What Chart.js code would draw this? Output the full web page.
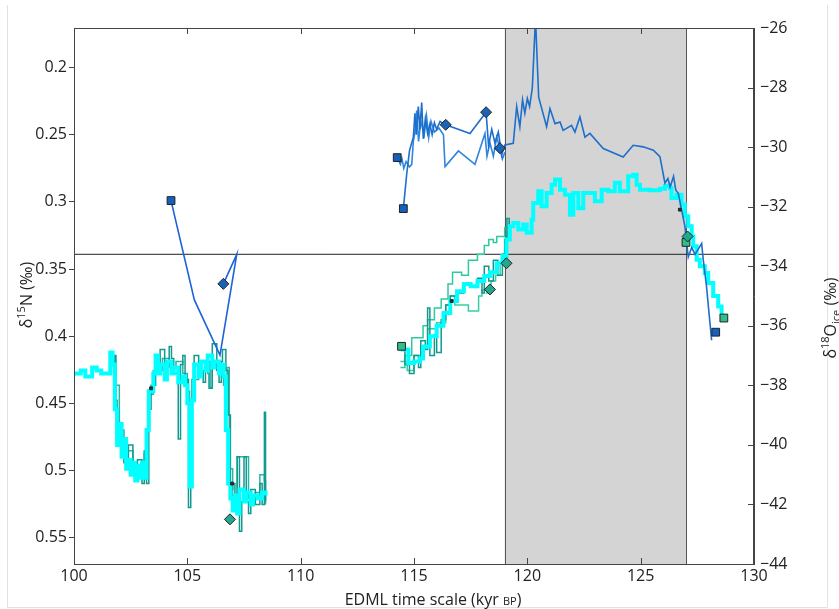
<!DOCTYPE html>
<html>
<head>
<meta charset="utf-8">
<script src="https://cdn.jsdelivr.net/npm/chart.js@4.4.1/dist/chart.umd.min.js"></script>
<style>
  html, body { margin: 0; padding: 0; background: #fff; }
  canvas { display: block; }
</style>
</head>
<body>
<canvas id="chart" width="839" height="609"></canvas>
<script>
// axis ticks
const ageTicks = [100, 105, 110, 115, 120, 125, 130];
const d15nTicks = [0.2, 0.25, 0.3, 0.35, 0.4, 0.45, 0.5, 0.55];
const d18oTicks = [-26, -28, -30, -32, -34, -36, -38, -40, -42, -44];

// shaded interval (kyr) and horizontal reference level (d15N)
const bandStart = 119.0;
const bandEnd = 127.0;
const refLevel = 0.339;

// d18O ice, thick cyan stairs
const cyanAge = [100.0, 100.3, 100.5, 100.8, 101.0, 101.2, 101.5, 101.6, 101.7, 101.8, 101.9, 102.0, 102.1, 102.2, 102.3, 102.4, 102.5, 102.6, 102.7, 102.8, 102.9, 103.0, 103.1, 103.2, 103.3, 103.5, 103.6, 103.7, 103.8, 104.0, 104.1, 104.3, 104.4, 104.6, 104.8, 104.9, 105.0, 105.1, 105.2, 105.3, 105.5, 105.6, 105.8, 105.9, 106.1, 106.2, 106.4, 106.5, 106.6, 106.7, 106.8, 106.9, 107.0, 107.1, 107.2, 107.3, 107.5, 107.6, 107.8, 107.9, 108.1, 108.3, 108.45,
  111,
  114.4, 114.5, 114.75, 115.0, 115.25, 115.4, 115.7, 116.0, 116.3, 116.6, 116.9, 117.2, 117.5, 117.8, 118.1, 118.35, 118.65, 118.9, 119.08, 119.23, 119.38, 119.6, 119.82, 119.97, 120.19, 120.26, 120.48, 120.63, 120.85, 121.07, 121.22, 121.44, 121.66, 121.88, 122.03, 122.25, 122.47, 122.76, 122.98, 123.28, 123.57, 123.86, 124.08, 124.45, 124.67, 124.82, 124.97, 125.41, 125.85, 126.07, 126.29, 126.36, 126.58, 126.8, 126.95, 127.1, 127.25, 127.32, 127.47, 127.61, 127.83, 127.98, 128.2, 128.42, 128.57];
const cyanD18O = [-37.6, -37.5, -37.7, -37.4, -37.5, -37.6, -37.6, -36.9, -37.3, -38.8, -40.0, -39.3, -40.4, -39.8, -40.8, -40.5, -41.0, -40.6, -41.2, -40.7, -41.1, -40.6, -41.1, -39.5, -38.2, -37.6, -37.0, -37.6, -37.3, -37.8, -37.2, -37.6, -37.4, -37.9, -37.7, -38.0, -38.6, -41.4, -38.5, -37.3, -37.7, -37.2, -37.5, -37.0, -37.4, -37.2, -37.6, -37.3, -37.7, -39.5, -41.3, -41.8, -42.2, -41.7, -42.3, -41.5, -41.9, -41.6, -42.0, -41.7, -41.8, -41.6, -41.7,
  null,
  -36.63, -36.8, -37.25, -37.2, -37.1, -36.7, -36.35, -36.0, -35.57, -35.17, -34.84, -34.6, -34.67, -34.5, -34.33, -34.2, -33.9, -33.66, -33.1, -32.66, -32.55, -32.77, -32.6, -32.88, -32.44, -31.88, -31.48, -31.99, -31.54, -31.26, -31.09, -31.43, -31.6, -32.27, -31.54, -32.05, -31.54, -31.54, -31.82, -31.43, -31.48, -31.2, -31.48, -30.98, -30.93, -31.26, -31.43, -31.45, -31.4, -31.31, -31.37, -31.71, -31.6, -31.93, -32.32, -32.66, -33.0, -33.33, -33.78, -34.0, -34.23, -34.56, -35.0, -35.35, -35.62];

// d18O, dark teal stairs
const tealAge = [101.6, 101.75, 101.8, 101.85, 101.9, 102.1, 102.2, 102.4, 102.6, 102.8, 103.0, 103.1, 103.2, 103.3, 103.4, 103.6, 103.8, 104.0, 104.2, 104.3, 104.4, 104.6, 104.7, 104.8, 104.9, 105.05, 105.15, 105.3, 105.5, 105.7, 105.8, 106.0, 106.1, 106.3, 106.4, 106.5, 106.55, 106.7, 106.8, 106.9, 107.0, 107.1, 107.2, 107.3, 107.4, 107.5, 107.6, 107.7, 107.8, 108.0, 108.2, 108.3, 108.4, 108.45,
  111,
  114.4, 114.6, 114.8, 115.0, 115.2, 115.3, 115.5, 115.6, 115.7, 115.9, 116.0, 116.2, 116.4, 116.6, 116.9, 117.2, 117.5, 117.8, 118.0, 118.1, 118.3, 118.5, 118.7, 118.9, 119.0, 119.1, 119.2];
const tealD18O = [-37.0, -37.6, -37.0, -38.5, -39.9, -39.5, -40.6, -40.0, -41.0, -40.5, -41.3, -40.2, -41.3, -38.8, -38.0, -37.4, -36.8, -37.3, -36.7, -37.1, -37.6, -39.8, -37.3, -37.0, -37.8, -42.1, -38.5, -37.0, -37.5, -37.9, -37.2, -38.1, -36.6, -37.5, -37.9, -37.2, -36.8, -37.5, -39.0, -41.5, -41.3, -42.0, -40.4, -42.9, -41.9, -40.4, -41.9, -42.3, -41.5, -42.0, -41.3, -42.0, -38.9, -41.9,
  null,
  -36.7, -37.3, -37.6, -37.0, -37.4, -36.5, -36.8, -35.4, -37.0, -36.3, -36.9, -35.8, -35.3, -35.0, -34.9, -34.6, -34.7, -34.4, -34.9, -34.0, -34.5, -33.8, -34.3, -33.6, -33.1, -32.4, -33.0];

// d18O, light teal stairs
const tealLightAge = [101.6, 101.8, 102.0, 102.3, 102.6, 102.9, 103.1, 103.25, 103.5, 103.9, 104.2, 104.5, 104.8, 105.0, 105.1, 105.2, 105.5, 105.9, 105.95, 106.1, 106.45, 106.6, 106.75, 106.85, 107.0, 107.2, 107.65, 107.7, 108.0, 108.2, 108.4, 108.45];
const tealLightD18O = [-37.2, -38.0, -39.8, -40.2, -40.9, -40.9, -40.3, -38.3, -37.5, -37.1, -37.4, -37.2, -37.6, -38.2, -40.5, -37.8, -37.2, -37.6, -38.1, -37.3, -37.4, -38.0, -37.4, -40.8, -41.8, -40.4, -40.4, -41.8, -41.6, -41.0, -41.2, -42.0];

// d18O, green stairs (two runs)
const greenAAge = [114.4, 114.6, 114.9, 115.4, 115.6, 115.9, 116.2, 116.5, 116.7, 117.1, 117.4, 117.8, 118.1, 118.3, 118.5, 118.65, 119.0, 119.2];
const greenAD18O = [-37.4, -37.0, -36.4, -36.0, -35.8, -35.4, -35.1, -34.6, -34.2, -34.3, -33.8, -33.6, -33.3, -33.1, -33.2, -33.0, -32.7, -32.5];
const greenBAge = [114.4, 114.7, 115.0, 115.3, 115.6, 116.0, 116.4, 116.6, 116.8, 117.3, 117.4, 117.8, 117.85, 118.0, 118.2, 118.4, 118.6, 118.8, 119.0, 119.1];
const greenBD18O = [-37.2, -37.5, -37.0, -36.7, -36.1, -35.9, -35.3, -35.0, -35.3, -35.3, -35.5, -35.5, -35.0, -34.8, -34.9, -34.5, -34.3, -33.9, -33.5, -32.8];

// d15N, blue lines
const blueEarlyAge = [104.28, 105.31, 106.44, 107.18, 106.59];
const blueEarlyD15n = [0.299, 0.373, 0.414, 0.339, 0.361];
const blueAAge = [114.53, 114.68, 114.8, 114.9, 114.97, 115.04, 115.1, 115.19, 115.26, 115.34, 115.41, 115.5, 115.6, 115.7, 115.8, 115.9, 116.0, 116.15, 116.4, 117.47, 118.18, 118.29, 118.43, 118.57, 118.72, 118.87, 119.01, 119.38, 119.53, 119.67, 119.79, 119.89, 120.0, 120.1, 120.22, 120.36, 120.5, 120.85, 121.0, 121.22, 121.44, 121.58, 121.95, 122.1, 122.32, 122.54, 122.76, 123.35, 124.23, 124.67, 125.11, 125.56, 125.85, 126.07, 126.2, 126.3, 126.45, 126.55, 126.66, 126.95, 127.1, 127.25, 127.4, 127.69, 127.76, 127.9, 128.0, 128.13];
const blueAD15n = [0.305, 0.279, 0.262, 0.256, 0.252, 0.234, 0.250, 0.229, 0.246, 0.226, 0.253, 0.238, 0.249, 0.242, 0.250, 0.241, 0.246, 0.240, 0.2426, 0.249, 0.2332, 0.258, 0.246, 0.256, 0.248, 0.265, 0.2575, 0.2563, 0.2291, 0.244, 0.224, 0.234, 0.223, 0.229, 0.215, 0.163, 0.222, 0.244, 0.2305, 0.2417, 0.2405, 0.2467, 0.243, 0.248, 0.2367, 0.2517, 0.249, 0.2603, 0.2665, 0.2578, 0.259, 0.2615, 0.2663, 0.286, 0.2826, 0.2888, 0.281, 0.2913, 0.2936, 0.318, 0.341, 0.334, 0.339, 0.331, 0.343, 0.362, 0.380, 0.403];
const blueBAge = [114.26, 114.4, 114.47, 114.55, 114.65, 114.8, 114.9, 114.97, 115.05, 115.12, 115.2, 115.3, 115.45, 115.55, 115.65, 115.75, 115.9, 116.1, 116.3, 116.37, 116.96, 117.69, 118.13, 118.22, 118.35, 118.5, 118.65, 118.79, 118.9, 119.01];
const blueBD15n = [0.267, 0.272, 0.268, 0.275, 0.270, 0.274, 0.272, 0.255, 0.247, 0.232, 0.255, 0.240, 0.250, 0.236, 0.252, 0.240, 0.248, 0.245, 0.250, 0.2737, 0.262, 0.272, 0.249, 0.266, 0.256, 0.266, 0.252, 0.260, 0.268, 0.263];

// markers
const blueSqAge = [104.28, 114.26, 114.53, 128.31];
const blueSqD15n = [0.299, 0.267, 0.305, 0.397];
const blueDiaAge = [106.59, 116.4, 118.18, 118.79];
const blueDiaD15n = [0.361, 0.2426, 0.2332, 0.260];
const tealDiaAge = [106.88, 118.35, 119.08, 127.07];
const tealDiaD18O = [-42.5, -34.78, -33.9, -33.0];
const tealSqAge = [114.45, 127.0, 128.67];
const tealSqD18O = [-36.69, -33.2, -35.74];
const darkMarkAge = [103.4, 106.97, 116.66, 126.73];
const darkMarkD18O = [-38.1, -41.3, -35.17, -32.1];

const pts = (xs, ys) => xs.map((x, i) => ({ x: x, y: ys[i] }));

function stairs(xs, ys, color, width) {
  return { data: pts(xs, ys), yAxisID: "yR", borderColor: color, borderWidth: width, stepped: "before", pointRadius: 0 };
}
function line(xs, ys, color, width) {
  return { data: pts(xs, ys), yAxisID: "yL", borderColor: color, borderWidth: width, pointRadius: 0, clip: 0 };
}
function marks(xs, ys, axis, style, fill, r) {
  return { data: pts(xs, ys), yAxisID: axis, showLine: false, pointStyle: style, pointRadius: r, backgroundColor: fill, borderColor: "#222", borderWidth: 1 };
}

const FONT = "'Open Sans', 'DejaVu Sans', sans-serif";
Chart.defaults.font.family = FONT;
Chart.defaults.font.size = 16;
Chart.defaults.color = "#222";

// draw text pieces (normal / super / sub) along a line
function richText(ctx, parts, x, y, rot) {
  ctx.save();
  ctx.translate(x, y);
  ctx.rotate(rot);
  ctx.fillStyle = "#222";
  ctx.textBaseline = "alphabetic";
  let total = 0;
  parts.forEach(p => { ctx.font = p[1] + "px " + FONT; total += ctx.measureText(p[0]).width; });
  let cx = -total / 2;
  parts.forEach(p => {
    ctx.font = p[1] + "px " + FONT;
    ctx.fillText(p[0], cx, p[2]);
    cx += ctx.measureText(p[0]).width;
  });
  ctx.restore();
}

const decor = {
  id: "decor",
  beforeDatasetsDraw(chart) {
    const { ctx, chartArea: a, scales } = chart;
    const x0 = scales.x.getPixelForValue(bandStart);
    const x1 = scales.x.getPixelForValue(bandEnd);
    ctx.save();
    ctx.fillStyle = "#d4d4d4";
    ctx.fillRect(x0, a.top, x1 - x0, a.bottom - a.top);
    ctx.strokeStyle = "#555";
    ctx.lineWidth = 1;
    ctx.beginPath();
    [x0, x1].forEach(px => {
      ctx.moveTo(Math.round(px) + 0.5, a.top);
      ctx.lineTo(Math.round(px) + 0.5, a.bottom);
    });
    ctx.stroke();
    ctx.restore();
  },
  afterDraw(chart) {
    const { ctx, chartArea: a, scales } = chart;
    ctx.save();
    // frame + inward ticks
    ctx.strokeStyle = "#444";
    ctx.lineWidth = 1;
    ctx.strokeRect(a.left + 0.5, a.top + 0.5, a.right - a.left - 1, a.bottom - a.top);
    ctx.beginPath();
    ageTicks.forEach(v => {
      const px = Math.round(scales.x.getPixelForValue(v)) + 0.5;
      ctx.moveTo(px, a.top); ctx.lineTo(px, a.top + 6);
      ctx.moveTo(px, a.bottom); ctx.lineTo(px, a.bottom - 6);
    });
    d18oTicks.forEach(v => {
      const py = Math.round(scales.yR.getPixelForValue(v)) + 0.5;
      ctx.moveTo(a.right, py); ctx.lineTo(a.right - 6, py);
    });
    ctx.stroke();
    // figure border
    ctx.strokeStyle = "#e2e2e2";
    ctx.beginPath();
    ctx.moveTo(7.5, 5); ctx.lineTo(7.5, 607.5); ctx.lineTo(827.5, 607.5); ctx.lineTo(827.5, 5);
    ctx.stroke();
    ctx.restore();

    // axis titles
    richText(ctx, [["\u03b4", 16, 0], ["15", 11, -7], ["N (\u2030)", 16, 0]], 32, 295, -Math.PI / 2);
    richText(ctx, [["\u03b4", 16, 0], ["18", 11, -7], ["O", 16, 0], ["ice", 11, 4], [" (\u2030)", 16, 0]], 836, 318, -Math.PI / 2);
    richText(ctx, [["EDML time scale (kyr ", 16, 0], ["BP", 11, 0], [")", 16, 0]], 433, 605, 0);
  }
};

new Chart(document.getElementById("chart").getContext("2d"), {
  type: "line",
  data: {
    datasets: [
      marks(darkMarkAge, darkMarkD18O, "yR", "rect", "#1b3b3a", 2),
      marks(blueSqAge, blueSqD15n, "yL", "rect", "#1560bd", 5.5),
      marks(blueDiaAge, blueDiaD15n, "yL", "rectRot", "#1a64b8", 5.5),
      marks(tealDiaAge, tealDiaD18O, "yR", "rectRot", "#22a88e", 5.5),
      marks(tealSqAge, tealSqD18O, "yR", "rect", "#2fbf8c", 5.5),
      line(blueAAge, blueAD15n, "#1d6fcc", 1.6),
      line(blueBAge, blueBD15n, "#2f86dc", 1.6),
      line(blueEarlyAge, blueEarlyD15n, "#1d62d8", 1.6),
      stairs(cyanAge, cyanD18O, "#00ffff", 4),
      stairs(tealAge, tealD18O, "#12998f", 1.5),
      stairs(tealLightAge, tealLightD18O, "#2bb3a6", 1.5),
      stairs(greenAAge, greenAD18O, "#2ec99e", 1.5),
      stairs(greenBAge, greenBD18O, "#34cfa4", 1.5),
      { data: [{ x: 100, y: refLevel }, { x: 130, y: refLevel }], yAxisID: "yL", borderColor: "#222", borderWidth: 1, pointRadius: 0 }
    ]
  },
  options: {
    responsive: false,
    animation: false,
    devicePixelRatio: 1,
    layout: { padding: { top: 28, left: 0, right: 0, bottom: 0 } },
    plugins: { legend: { display: false }, tooltip: { enabled: false } },
    elements: { line: { tension: 0 } },
    scales: {
      x: {
        type: "linear",
        min: 100,
        max: 130,
        afterBuildTicks: s => { s.ticks = ageTicks.map(v => ({ value: v })); },
        afterFit: s => { s.height = 45; },
        ticks: { padding: 3, maxRotation: 0, autoSkip: false },
        grid: { display: false, drawTicks: false, tickLength: 0 },
        border: { display: true, color: "#444" }
      },
      yL: {
        type: "linear",
        position: "left",
        reverse: true,
        min: 0.1705,
        max: 0.5696,
        afterBuildTicks: s => { s.ticks = d15nTicks.map(v => ({ value: v })); },
        afterFit: s => { s.width = 74; },
        ticks: { padding: 2, autoSkip: false, callback: v => String(+v.toFixed(2)) },
        grid: { drawOnChartArea: false, drawTicks: true, tickLength: 5, color: "#444" },
        border: { display: true, color: "#444" }
      },
      yR: {
        type: "linear",
        position: "right",
        min: -44,
        max: -26,
        afterBuildTicks: s => { s.ticks = d18oTicks.map(v => ({ value: v })); },
        afterFit: s => { s.width = 85; },
        ticks: { padding: 6, autoSkip: false, callback: v => "\u2212" + Math.abs(v) },
        grid: { display: false, drawTicks: false, tickLength: 0 },
        border: { display: true, color: "#444" }
      }
    }
  },
  plugins: [decor]
});
</script>
</body>
</html>
